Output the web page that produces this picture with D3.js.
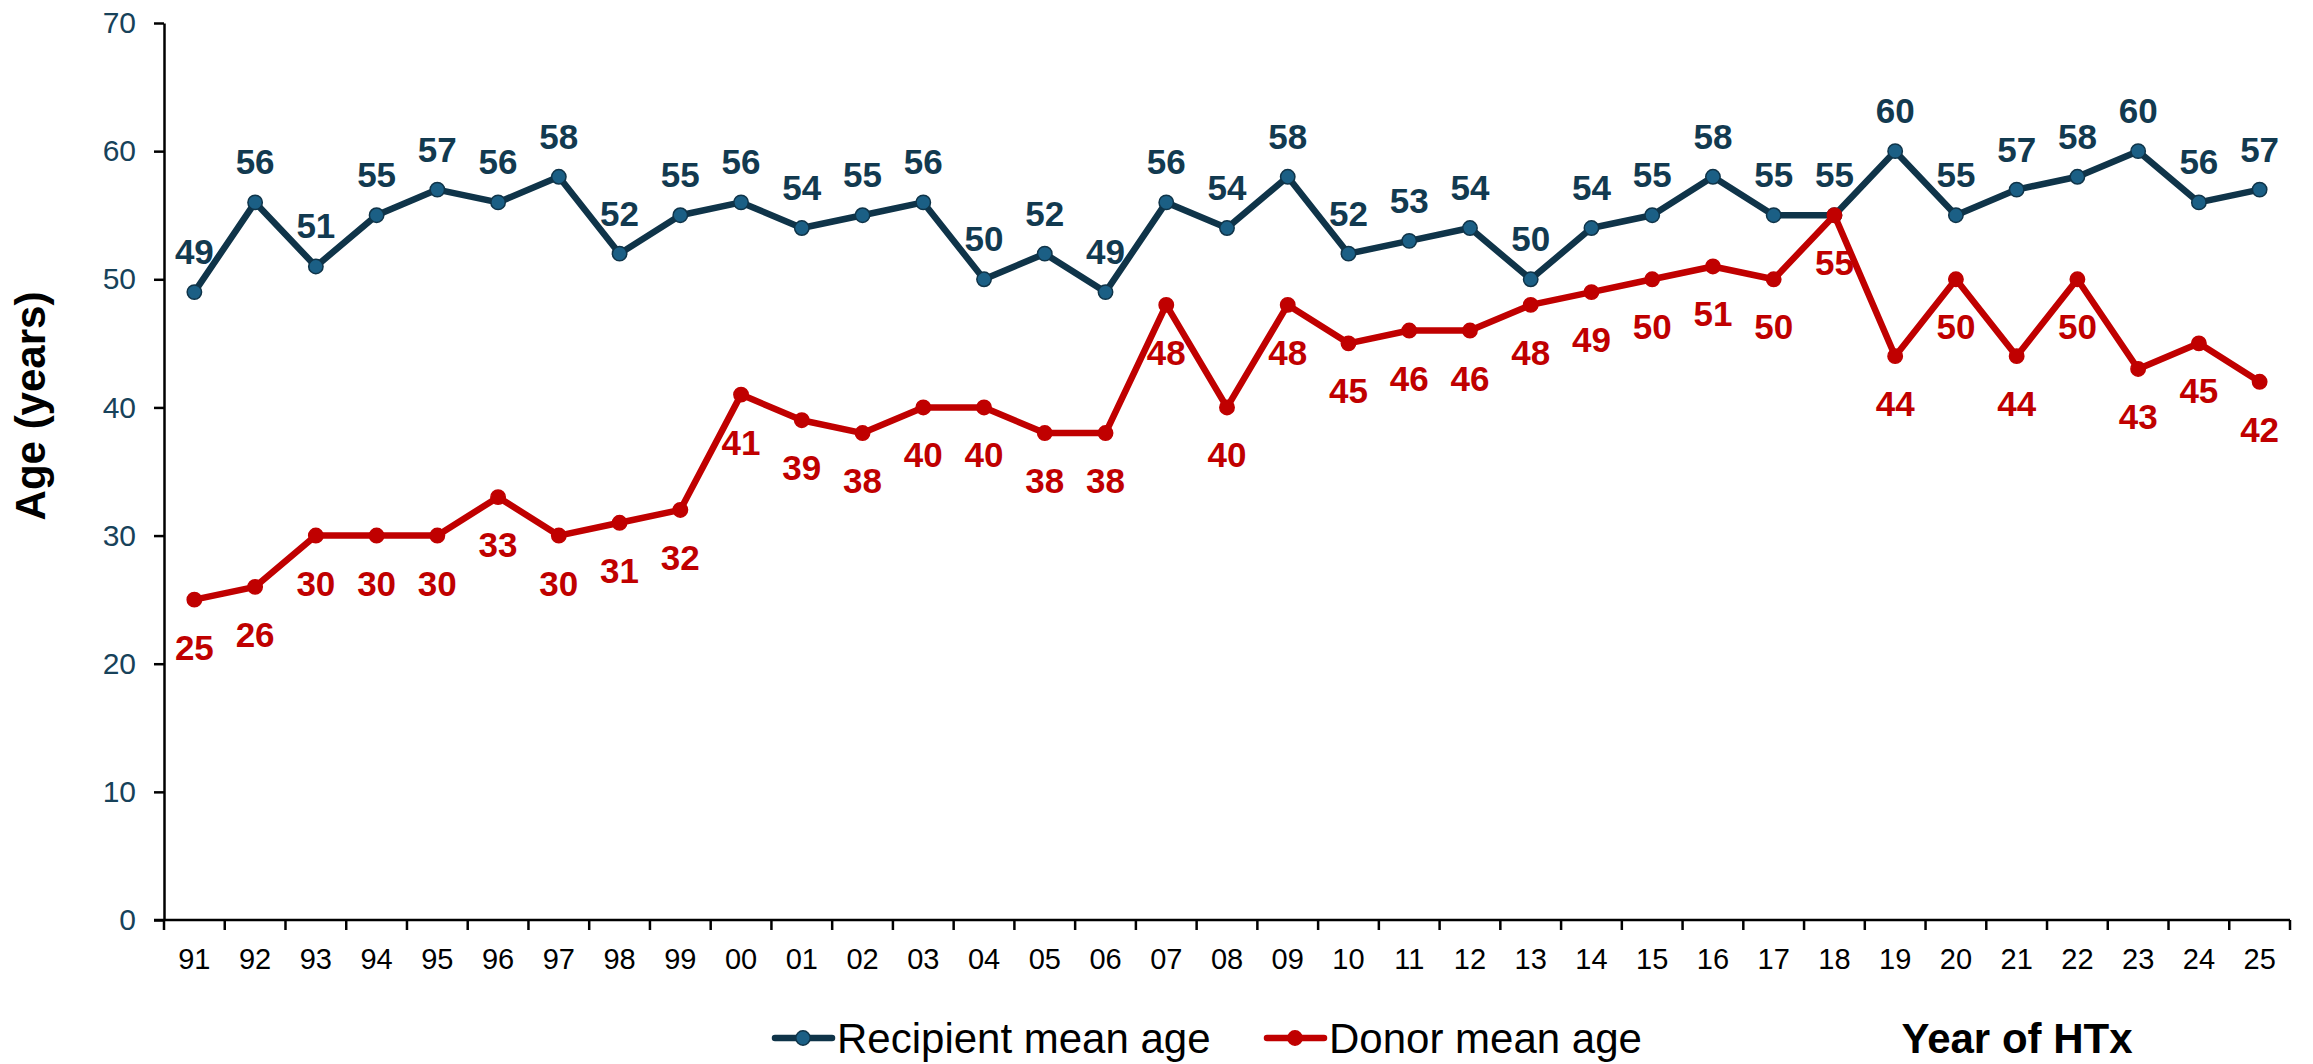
<!DOCTYPE html>
<html>
<head>
<meta charset="utf-8">
<script src="https://cdn.jsdelivr.net/npm/d3@7"></script>
<style>
  body { margin: 0; background: #fff; }
  text { font-family: "Liberation Sans", Arial, sans-serif; }
</style>
</head>
<body>
<div id="chart"></div>
<script>
const years = ["91","92","93","94","95","96","97","98","99","00","01","02","03","04","05","06","07","08","09","10","11","12","13","14","15","16","17","18","19","20","21","22","23","24","25"];
const recipientAge = [49,56,51,55,57,56,58,52,55,56,54,55,56,50,52,49,56,54,58,52,53,54,50,54,55,58,55,55,60,55,57,58,60,56,57];
const donorAge = [25,26,30,30,30,33,30,31,32,41,39,38,40,40,38,38,48,40,48,45,46,46,48,49,50,51,50,55,44,50,44,50,43,45,42];
const yTicks = [0,10,20,30,40,50,60,70];

const W = 2313, H = 1064;
const plotLeft = 164, plotRight = 2290, plotTop = 23, plotBottom = 920;

const navy = "#0f3449", navyFill = "#1b5f85", red = "#c00000", tickTeal = "#17425a";

let svg = d3.select("#chart").append("svg")
  .attr("width", W).attr("height", H);

let x = d3.scaleBand().domain(years).range([plotLeft, plotRight]).padding(0);
let y = d3.scaleLinear().domain([0, 70]).range([plotBottom, plotTop]);

// y axis
let yAxis = svg.append("g")
  .attr("transform", "translate(" + plotLeft + ",0)")
  .call(d3.axisLeft(y).tickValues(yTicks).tickSize(10).tickPadding(18).tickSizeOuter(0));
yAxis.select(".domain").attr("stroke", "#000").attr("stroke-width", 2.5);
yAxis.selectAll(".tick line").attr("stroke", "#000").attr("stroke-width", 2.5);
yAxis.selectAll(".tick text")
  .attr("fill", tickTeal)
  .style("font-size", "30px");

// x axis: line, boundary ticks, centered labels
let xAxis = svg.append("g")
  .attr("transform", "translate(0," + plotBottom + ")")
  .call(d3.axisBottom(x).tickSize(0).tickPadding(28).tickSizeOuter(0));
xAxis.select(".domain").attr("stroke", "#000").attr("stroke-width", 2.5)
  .attr("d", "M" + (plotLeft - 10) + ",0H" + plotRight);
xAxis.selectAll(".tick text").attr("fill", "#000").style("font-size", "29px");
xAxis.selectAll(".bound")
  .data(years.concat(["end"]))
  .enter().append("line")
  .attr("class", "bound")
  .attr("x1", d => d === "end" ? plotRight : x(d))
  .attr("x2", d => d === "end" ? plotRight : x(d))
  .attr("y1", 0).attr("y2", 10)
  .attr("stroke", "#000").attr("stroke-width", 2.5);

const cx = (d, i) => x(years[i]) + x.bandwidth() / 2;

function drawSeries(values, lineColor, fill, labelColor, labelDy) {
  svg.append("path")
    .datum(values)
    .attr("fill", "none")
    .attr("stroke", lineColor)
    .attr("stroke-width", 6.5)
    .attr("stroke-linejoin", "round")
    .attr("d", d3.line().x(cx).y(d => y(d)));

  svg.append("g").selectAll("circle")
    .data(values).enter().append("circle")
    .attr("cx", cx)
    .attr("cy", d => y(d))
    .attr("r", 7.2)
    .attr("fill", fill)
    .attr("stroke", lineColor)
    .attr("stroke-width", 1.5);

  svg.append("g").selectAll("text")
    .data(values).enter().append("text")
    .attr("x", cx)
    .attr("y", d => y(d) + labelDy)
    .attr("text-anchor", "middle")
    .attr("fill", labelColor)
    .style("font-size", "35px")
    .style("font-weight", "bold")
    .text(d => d);
}

drawSeries(recipientAge, navy, navyFill, "#123a50", -28);
drawSeries(donorAge, red, red, red, 60);

// axis titles
svg.append("text")
  .attr("transform", "translate(45,406) rotate(-90)")
  .attr("text-anchor", "middle")
  .style("font-size", "42px")
  .style("font-weight", "bold")
  .attr("fill", "#000")
  .text("Age (years)");

svg.append("text")
  .attr("x", 2017).attr("y", 1053)
  .attr("text-anchor", "middle")
  .style("font-size", "42px")
  .style("font-weight", "bold")
  .attr("fill", "#000")
  .text("Year of HTx");

// legend
const legend = [
  { name: "Recipient mean age", color: navy, fill: navyFill, x: 775 },
  { name: "Donor mean age", color: red, fill: red, x: 1267 }
];
let lg = svg.append("g").selectAll("g").data(legend).enter().append("g")
  .attr("transform", d => "translate(" + d.x + ",1038)");
lg.append("line")
  .attr("x1", 0).attr("x2", 57).attr("y1", 0).attr("y2", 0)
  .attr("stroke", d => d.color).attr("stroke-width", 6.5).attr("stroke-linecap", "round");
lg.append("circle")
  .attr("cx", 28).attr("cy", 0).attr("r", 7.2)
  .attr("fill", d => d.fill).attr("stroke", d => d.color).attr("stroke-width", 1.5);
lg.append("text")
  .attr("x", 62).attr("y", 15)
  .style("font-size", "42px")
  .attr("fill", "#000")
  .text(d => d.name);
</script>
</body>
</html>
